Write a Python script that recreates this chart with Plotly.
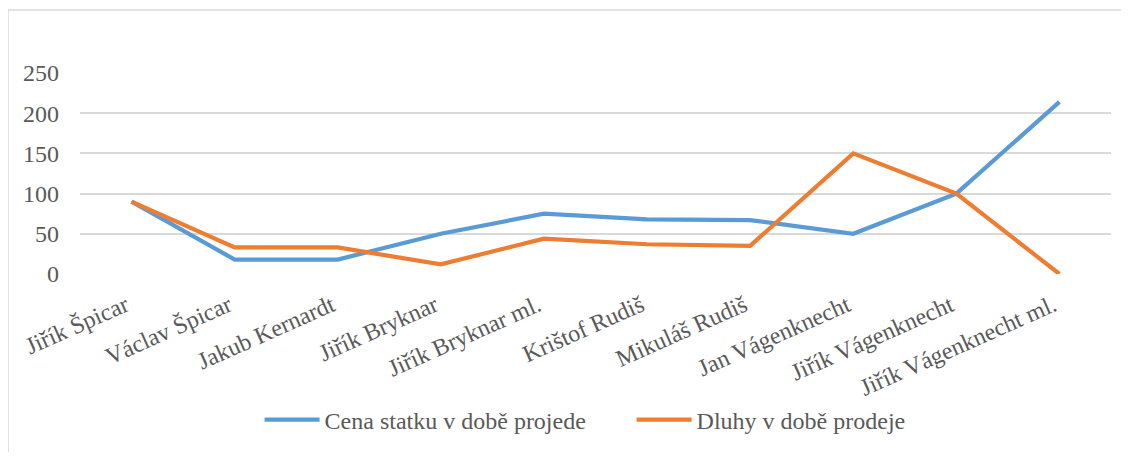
import plotly.graph_objects as go

categories = ["Jiřík Špicar", "Václav Špicar", "Jakub Kernardt", "Jiřík Bryknar",
              "Jiřík Bryknar ml.", "Krištof Rudiš", "Mikuláš Rudiš", "Jan Vágenknecht",
              "Jiřík Vágenknecht", "Jiřík Vágenknecht ml."]
cena = [90, 18, 18, 50, 75, 68, 67, 50, 100, 214]
dluhy = [90, 33, 33, 12, 44, 37, 35, 150, 100, 0]
y_ticks = [0, 50, 100, 150, 200, 250]

FAM = "Liberation Serif"
TXT = "#595959"
SIZE = 24

fig = go.Figure()
fig.add_trace(go.Scatter(x=categories, y=cena, mode="lines", name="Cena statku v době projede",
                         line=dict(color="#5B9BD5", width=4.2)))
fig.add_trace(go.Scatter(x=categories, y=dluhy, mode="lines", name="Dluhy v době prodeje",
                         line=dict(color="#ED7D31", width=4.2)))

fig.update_layout(
    width=1113, height=444,
    margin=dict(l=72, r=10, t=65, b=178, autoexpand=False),
    paper_bgcolor="white", plot_bgcolor="white",
    font_family=FAM, font_size=SIZE, font_color=TXT,
    showlegend=True,
    shapes=[dict(type="rect", xref="paper", yref="paper", x0=-0.0698, y0=-2, x1=1.2, y1=1.313,
                 line=dict(color="#d9d9d9", width=1.5), fillcolor="rgba(0,0,0,0)", layer="below")],
)
fig.update_layout(legend_orientation="h", legend_x=0.535, legend_xanchor="center",
                  legend_y=-0.726, legend_yanchor="middle",
                  legend_itemwidth=55, legend_entrywidth=302, legend_entrywidthmode="pixels",
                  legend_font_family=FAM, legend_font_size=SIZE, legend_font_color=TXT)
fig.update_xaxes(type="category", showgrid=False, zeroline=False, showline=False,
                 tickangle=-24, ticks="", automargin=False,
                 ticklabelstandoff=12, ticklabelshift=-6,
                 tickfont_family=FAM, tickfont_size=SIZE, tickfont_color=TXT,
                 range=[-0.5, len(categories) - 0.5])
fig.update_yaxes(range=[0, 250], tickvals=y_ticks, showgrid=True, gridcolor="#d9d9d9",
                 gridwidth=1.5, zeroline=False, showline=False, ticks="", automargin=False,
                 ticklabelstandoff=20,
                 tickfont_family=FAM, tickfont_size=SIZE, tickfont_color=TXT)

fig.write_html("out.html")
